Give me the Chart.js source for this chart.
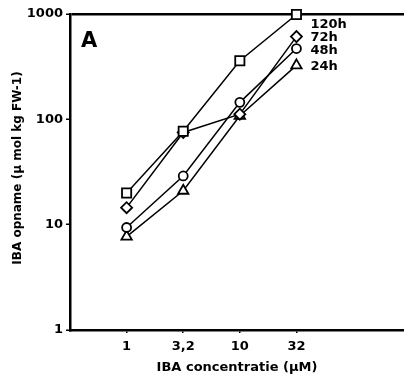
<!DOCTYPE html>
<html>
<head>
<meta charset="utf-8">
<script src="https://cdn.jsdelivr.net/npm/chart.js@4"></script>
<style>
  html, body { margin: 0; padding: 0; background: #fff; }
  #wrap { width: 404px; height: 380px; position: relative; }
</style>
</head>
<body>
<div id="wrap"><canvas id="chart"></canvas></div>
<script>
// IBA opname vs concentratie, log y-as
const concLabels = ['1', '3,2', '10', '32'];
const yTickValues = [1, 10, 100, 1000];
const uptake120h = [20, 77, 360, 990];
const uptake72h = [14.5, 75, 112, 610];
const uptake48h = [9.4, 29, 145, 470];
const uptake24h = [7.7, 21, 108, 325];

const FONT = '"DejaVu Sans", sans-serif';

function toPoints(values) {
    return values.map((v, i) => ({ x: i + 1, y: v }));
}

function series(label, values, style, radius, labelDy) {
    return {
        label: label,
        data: toPoints(values),
        borderColor: '#000',
        backgroundColor: '#fff',
        borderWidth: 1.5,
        pointStyle: style,
        pointRadius: radius,
        pointBorderWidth: 1.8,
        pointBackgroundColor: '#fff',
        pointBorderColor: '#000',
        tension: 0,
        labelDy: labelDy
    };
}

// labels beside the last points, the panel letter and the y title
const annotations = {
    id: 'annotations',
    afterDatasetsDraw(chart) {
        const ctx = chart.ctx;
        const area = chart.chartArea;
        ctx.save();
        ctx.fillStyle = '#000';
        ctx.textBaseline = 'middle';
        ctx.textAlign = 'left';
        ctx.font = 'bold 13px ' + FONT;
        chart.data.datasets.forEach((ds, i) => {
            const pts = chart.getDatasetMeta(i).data;
            const last = pts[pts.length - 1];
            ctx.fillText(ds.label, last.x + 14, last.y + ds.labelDy);
        });
        ctx.font = 'bold 21px ' + FONT;
        ctx.textBaseline = 'alphabetic';
        ctx.fillText('A', area.left + 11, area.top + 33);

        ctx.font = 'bold 12px ' + FONT;
        ctx.textAlign = 'center';
        ctx.textBaseline = 'middle';
        ctx.translate(18, area.top + 154);
        ctx.rotate(-Math.PI / 2);
        ctx.fillText('IBA opname (\u03bc mol kg FW-1)', 0, 0);
        ctx.restore();
    }
};

new Chart(document.getElementById('chart'), {
    type: 'line',
    data: {
        datasets: [
            series('120h', uptake120h, 'rect', 6.5, 10),
            series('72h', uptake72h, 'rectRot', 5.5, 1),
            series('48h', uptake48h, 'circle', 4.5, 2),
            series('24h', uptake24h, 'triangle', 6, 1)
        ]
    },
    options: {
        responsive: true,
        maintainAspectRatio: false,
        animation: false,
        clip: false,
        layout: { autoPadding: false, padding: { top: 14, right: 0, left: 0, bottom: 0 } },
        plugins: {
            legend: { display: false },
            tooltip: { enabled: false }
        },
        scales: {
            x: {
                type: 'linear',
                min: 0,
                max: 5.9,
                afterBuildTicks(scale) {
                    scale.ticks = concLabels.map((_, i) => ({ value: i + 1 }));
                },
                afterFit(scale) {
                    scale.height = 50;
                    scale.paddingLeft = 0;
                    scale.paddingRight = 0;
                },
                ticks: {
                    autoSkip: false,
                    maxRotation: 0,
                    padding: 6,
                    color: '#000',
                    font: { family: FONT, size: 13, weight: 'bold' },
                    callback: (v) => concLabels[v - 1] || ''
                },
                grid: { drawOnChartArea: false, tickLength: 3, color: '#000', lineWidth: 1.5 },
                border: { color: '#000', width: 2.5 },
                title: {
                    display: true,
                    text: 'IBA concentratie (\u03bcM)',
                    color: '#000',
                    font: { family: FONT, size: 13, weight: 'bold' },
                    padding: { top: 4, bottom: 5 }
                }
            },
            y: {
                type: 'logarithmic',
                min: 1,
                max: 1000,
                afterBuildTicks(scale) {
                    scale.ticks = yTickValues.map(v => ({ value: v }));
                },
                afterFit(scale) { scale.width = 70; },
                ticks: {
                    padding: 3,
                    color: '#000',
                    font: { family: FONT, size: 13, weight: 'bold' },
                    callback: (v) => String(v)
                },
                grid: {
                    tickLength: 4,
                    lineWidth: 2.5,
                    color: (c) => (c.tick && c.tick.value === 1000) ? '#000' : 'rgba(0,0,0,0)',
                    tickColor: '#000',
                    tickWidth: 1.5
                },
                border: { color: '#000', width: 2.5 }
            }
        }
    },
    plugins: [annotations]
});
</script>
</body>
</html>
